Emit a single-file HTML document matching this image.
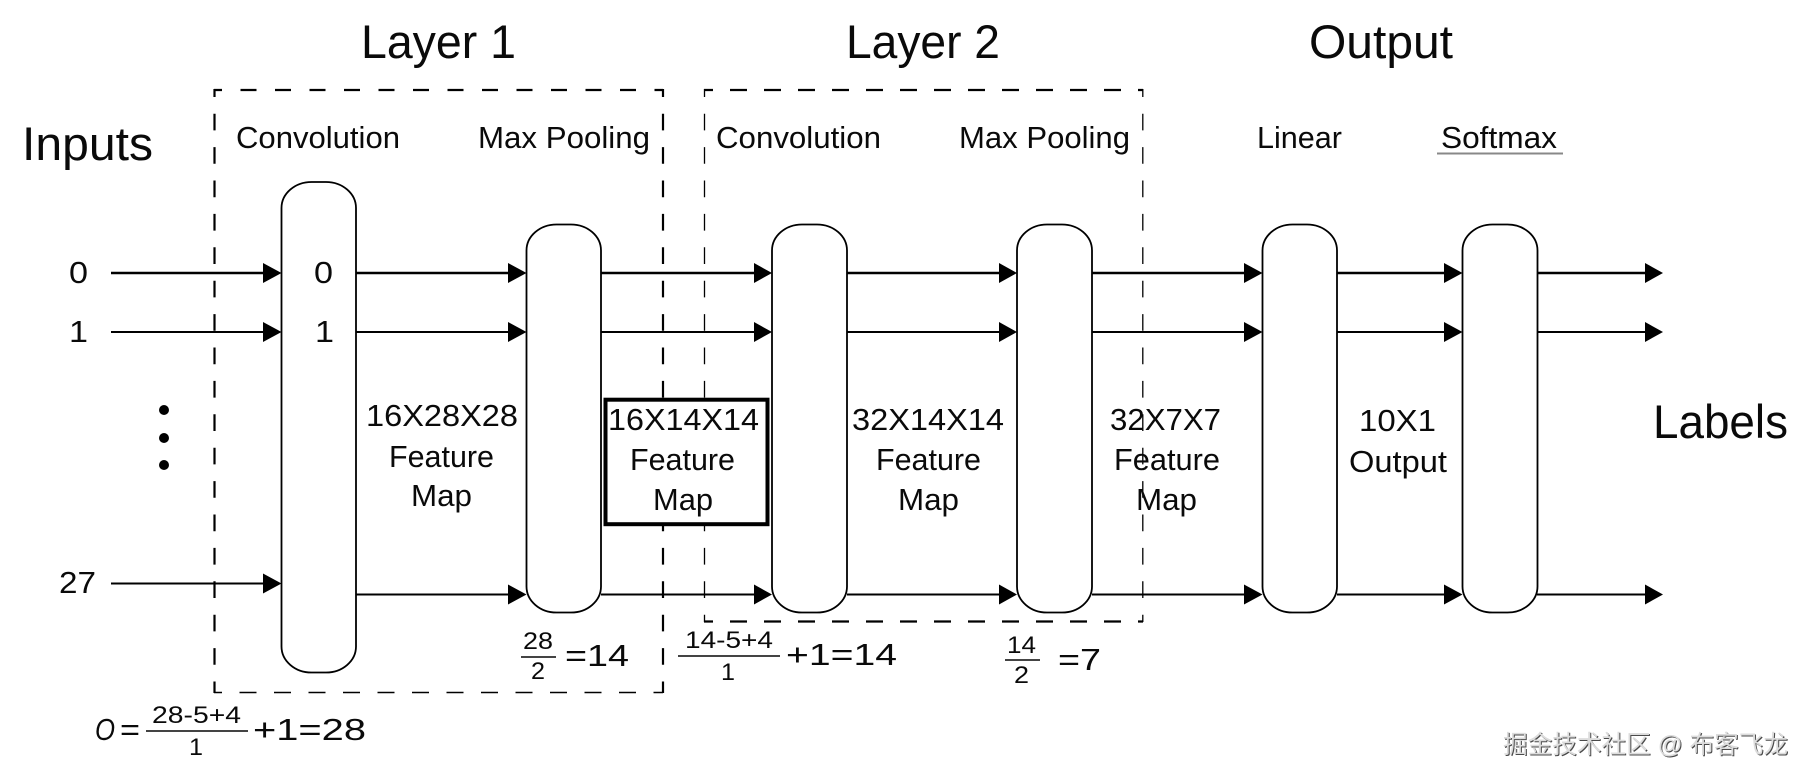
<!DOCTYPE html>
<html lang="zh">
<head>
<meta charset="utf-8">
<title>CNN diagram</title>
<style>
html,body{margin:0;padding:0;background:#fff;}
svg{display:block;}
text{font-family:"Liberation Sans","Noto Sans CJK SC",sans-serif;fill:#0a0a0a;}
.wm{fill:#dcdcdc;filter:drop-shadow(1px 1px 0 #4a4a4a);}
</style>
</head>
<body>
<svg xmlns="http://www.w3.org/2000/svg" width="1811" height="781" viewBox="0 0 1811 781">
<rect width="1811" height="781" fill="#fff"/>

<!-- Layer 1 dashed box -->
<g stroke="#000" stroke-width="2.2" fill="none">
<line x1="214" y1="90" x2="663" y2="90" stroke-dasharray="16 18.5" stroke-dashoffset="8"/>
<line x1="214" y1="692.5" x2="663" y2="692.5" stroke-dasharray="17 17.5" stroke-dashoffset="9" stroke-width="1.6"/>
<line x1="214.5" y1="89" x2="214.5" y2="693" stroke-dasharray="16.7 16.7" stroke-dashoffset="8.7"/>
<line x1="663" y1="89" x2="663" y2="693" stroke-dasharray="16.7 16.7" stroke-dashoffset="8.7"/>
</g>
<!-- Layer 2 dashed box -->
<g stroke="#000" fill="none">
<line x1="704" y1="90" x2="1143" y2="90" stroke-width="2.2" stroke-dasharray="17 17" stroke-dashoffset="8"/>
<line x1="704" y1="621.5" x2="1143" y2="621.5" stroke-width="2.2" stroke-dasharray="17 17" stroke-dashoffset="8"/>
<line x1="704.5" y1="89" x2="704.5" y2="622" stroke-width="1.3" stroke-dasharray="16.7 16.7" stroke-dashoffset="8.7"/>
<line x1="1142.8" y1="89" x2="1142.8" y2="622" stroke-width="1.3" stroke-dasharray="16.7 16.7" stroke-dashoffset="8.7"/>
</g>

<!-- connector lines -->
<g stroke="#000" fill="none">
<g stroke-width="2.6">
<line x1="111" y1="273" x2="265" y2="273"/>
<line x1="356" y1="273" x2="510" y2="273"/>
<line x1="601" y1="273" x2="756" y2="273"/>
<line x1="847" y1="273" x2="1001" y2="273"/>
<line x1="1092" y1="273" x2="1246" y2="273"/>
<line x1="1337" y1="273" x2="1446" y2="273"/>
<line x1="1537" y1="273" x2="1646" y2="273"/>
</g>
<g stroke-width="2">
<line x1="111" y1="332" x2="265" y2="332"/>
<line x1="356" y1="332" x2="510" y2="332"/>
<line x1="601" y1="332" x2="756" y2="332"/>
<line x1="847" y1="332" x2="1001" y2="332"/>
<line x1="1092" y1="332" x2="1246" y2="332"/>
<line x1="1337" y1="332" x2="1446" y2="332"/>
<line x1="1537" y1="332" x2="1646" y2="332"/>
<line x1="111" y1="583.5" x2="265" y2="583.5"/>
<line x1="356" y1="594.5" x2="510" y2="594.5"/>
<line x1="601" y1="594.5" x2="756" y2="594.5"/>
<line x1="847" y1="594.5" x2="1001" y2="594.5"/>
<line x1="1092" y1="594.5" x2="1246" y2="594.5"/>
<line x1="1337" y1="594.5" x2="1446" y2="594.5"/>
<line x1="1537" y1="594.5" x2="1646" y2="594.5"/>
</g>
</g>

<!-- arrowheads -->
<g fill="#000">
<polygon points="263,263 281.5,273 263,283"/>
<polygon points="508,263 526.5,273 508,283"/>
<polygon points="754,263 772,273 754,283"/>
<polygon points="999,263 1017,273 999,283"/>
<polygon points="1244,263 1262.5,273 1244,283"/>
<polygon points="1444,263 1462.5,273 1444,283"/>
<polygon points="1645,263 1663,273 1645,283"/>
<polygon points="263,322 281.5,332 263,342"/>
<polygon points="508,322 526.5,332 508,342"/>
<polygon points="754,322 772,332 754,342"/>
<polygon points="999,322 1017,332 999,342"/>
<polygon points="1244,322 1262.5,332 1244,342"/>
<polygon points="1444,322 1462.5,332 1444,342"/>
<polygon points="1645,322 1663,332 1645,342"/>
<polygon points="263,573.5 281.5,583.5 263,593.5"/>
<polygon points="508,584.5 526.5,594.5 508,604.5"/>
<polygon points="754,584.5 772,594.5 754,604.5"/>
<polygon points="999,584.5 1017,594.5 999,604.5"/>
<polygon points="1244,584.5 1262.5,594.5 1244,604.5"/>
<polygon points="1444,584.5 1462.5,594.5 1444,604.5"/>
<polygon points="1645,584.5 1663,594.5 1645,604.5"/>
</g>

<!-- rounded blocks -->
<g fill="#fff" stroke="#000" stroke-width="1.8">
<rect x="281.5" y="182" width="74.5" height="490.5" rx="30" ry="26"/>
<rect x="526.5" y="224.5" width="74.5" height="388" rx="30" ry="26"/>
<rect x="772" y="224.5" width="75" height="388" rx="30" ry="26"/>
<rect x="1017" y="224.5" width="75" height="388" rx="30" ry="26"/>
<rect x="1262.5" y="224.5" width="74.5" height="388" rx="30" ry="26"/>
<rect x="1462.5" y="224.5" width="75" height="388" rx="30" ry="26"/>
</g>

<!-- heavy box -->
<rect x="605.5" y="399.7" width="162" height="124.5" fill="#fff" stroke="#000" stroke-width="4"/>

<!-- dots -->
<g fill="#000">
<ellipse cx="164" cy="410" rx="5" ry="5"/>
<ellipse cx="164" cy="438" rx="5" ry="5"/>
<ellipse cx="164" cy="465" rx="5" ry="5"/>
</g>

<!-- headings -->
<g font-size="47">
<text x="361" y="58" textLength="155" lengthAdjust="spacingAndGlyphs">Layer 1</text>
<text x="846" y="58" textLength="154" lengthAdjust="spacingAndGlyphs">Layer 2</text>
<text x="1309" y="58" textLength="144" lengthAdjust="spacingAndGlyphs">Output</text>
<text x="22" y="160" textLength="131" lengthAdjust="spacingAndGlyphs">Inputs</text>
<text x="1653" y="438" textLength="135" lengthAdjust="spacingAndGlyphs">Labels</text>
</g>

<g font-size="31">
<text x="236" y="148" textLength="164" lengthAdjust="spacingAndGlyphs">Convolution</text>
<text x="478" y="148" textLength="172" lengthAdjust="spacingAndGlyphs">Max Pooling</text>
<text x="716" y="148" textLength="165" lengthAdjust="spacingAndGlyphs">Convolution</text>
<text x="959" y="148" textLength="171" lengthAdjust="spacingAndGlyphs">Max Pooling</text>
<text x="1257" y="148" textLength="85" lengthAdjust="spacingAndGlyphs">Linear</text>
<text x="1441" y="148" textLength="116" lengthAdjust="spacingAndGlyphs">Softmax</text>

<text x="69" y="283" textLength="19" lengthAdjust="spacingAndGlyphs">0</text>
<text x="314" y="283" textLength="19" lengthAdjust="spacingAndGlyphs">0</text>
<text x="69" y="342" textLength="19" lengthAdjust="spacingAndGlyphs">1</text>
<text x="315" y="342" textLength="19" lengthAdjust="spacingAndGlyphs">1</text>
<text x="59" y="593" textLength="37" lengthAdjust="spacingAndGlyphs">27</text>

<text x="366" y="426" textLength="152" lengthAdjust="spacingAndGlyphs">16X28X28</text>
<text x="389" y="467" textLength="105" lengthAdjust="spacingAndGlyphs">Feature</text>
<text x="411" y="506" textLength="61" lengthAdjust="spacingAndGlyphs">Map</text>

<text x="608" y="430" textLength="151" lengthAdjust="spacingAndGlyphs">16X14X14</text>
<text x="630" y="470" textLength="105" lengthAdjust="spacingAndGlyphs">Feature</text>
<text x="653" y="510" textLength="60" lengthAdjust="spacingAndGlyphs">Map</text>

<text x="852" y="430" textLength="152" lengthAdjust="spacingAndGlyphs">32X14X14</text>
<text x="876" y="470" textLength="105" lengthAdjust="spacingAndGlyphs">Feature</text>
<text x="898" y="510" textLength="61" lengthAdjust="spacingAndGlyphs">Map</text>

<text x="1110" y="430" textLength="111" lengthAdjust="spacingAndGlyphs">32X7X7</text>
<text x="1114" y="470" textLength="106" lengthAdjust="spacingAndGlyphs">Feature</text>
<text x="1136" y="510" textLength="61" lengthAdjust="spacingAndGlyphs">Map</text>

<text x="1359" y="431" textLength="77" lengthAdjust="spacingAndGlyphs">10X1</text>
<text x="1349" y="472" textLength="98" lengthAdjust="spacingAndGlyphs">Output</text>

<!-- equation text -->
<text x="565" y="666" textLength="64" lengthAdjust="spacingAndGlyphs">=14</text>
<text x="95" y="740" textLength="20" lengthAdjust="spacingAndGlyphs" font-style="italic">O</text>
<text x="120" y="740" textLength="20" lengthAdjust="spacingAndGlyphs">=</text>
<text x="253" y="740" textLength="113" lengthAdjust="spacingAndGlyphs">+1=28</text>
<text x="786" y="665" textLength="111" lengthAdjust="spacingAndGlyphs">+1=14</text>
<text x="1058" y="670" textLength="43" lengthAdjust="spacingAndGlyphs">=7</text>
</g>

<g font-size="24">
<text x="523" y="649" textLength="30" lengthAdjust="spacingAndGlyphs">28</text>
<text x="531" y="679" textLength="14" lengthAdjust="spacingAndGlyphs">2</text>
<text x="152" y="723" textLength="89" lengthAdjust="spacingAndGlyphs">28-5+4</text>
<text x="189" y="755" textLength="14" lengthAdjust="spacingAndGlyphs">1</text>
<text x="685" y="648" textLength="88" lengthAdjust="spacingAndGlyphs">14-5+4</text>
<text x="721" y="680" textLength="14" lengthAdjust="spacingAndGlyphs">1</text>
<text x="1007" y="653" textLength="29" lengthAdjust="spacingAndGlyphs">14</text>
<text x="1014" y="683" textLength="15" lengthAdjust="spacingAndGlyphs">2</text>
</g>

<!-- fraction bars and underline -->
<g stroke="#444" stroke-width="2" fill="none">
<line x1="521" y1="657" x2="556" y2="657"/>
<line x1="146" y1="731" x2="248" y2="731"/>
<line x1="678" y1="656" x2="780" y2="656"/>
<line x1="1005" y1="660" x2="1040" y2="660"/>
<line x1="1437" y1="153.5" x2="1563" y2="153.5" stroke="#888"/>
</g>

<!-- watermark -->
<text class="wm" x="1503" y="753" font-size="25" textLength="285" lengthAdjust="spacingAndGlyphs">掘金技术社区 @ 布客飞龙</text>
</svg>
</body>
</html>
